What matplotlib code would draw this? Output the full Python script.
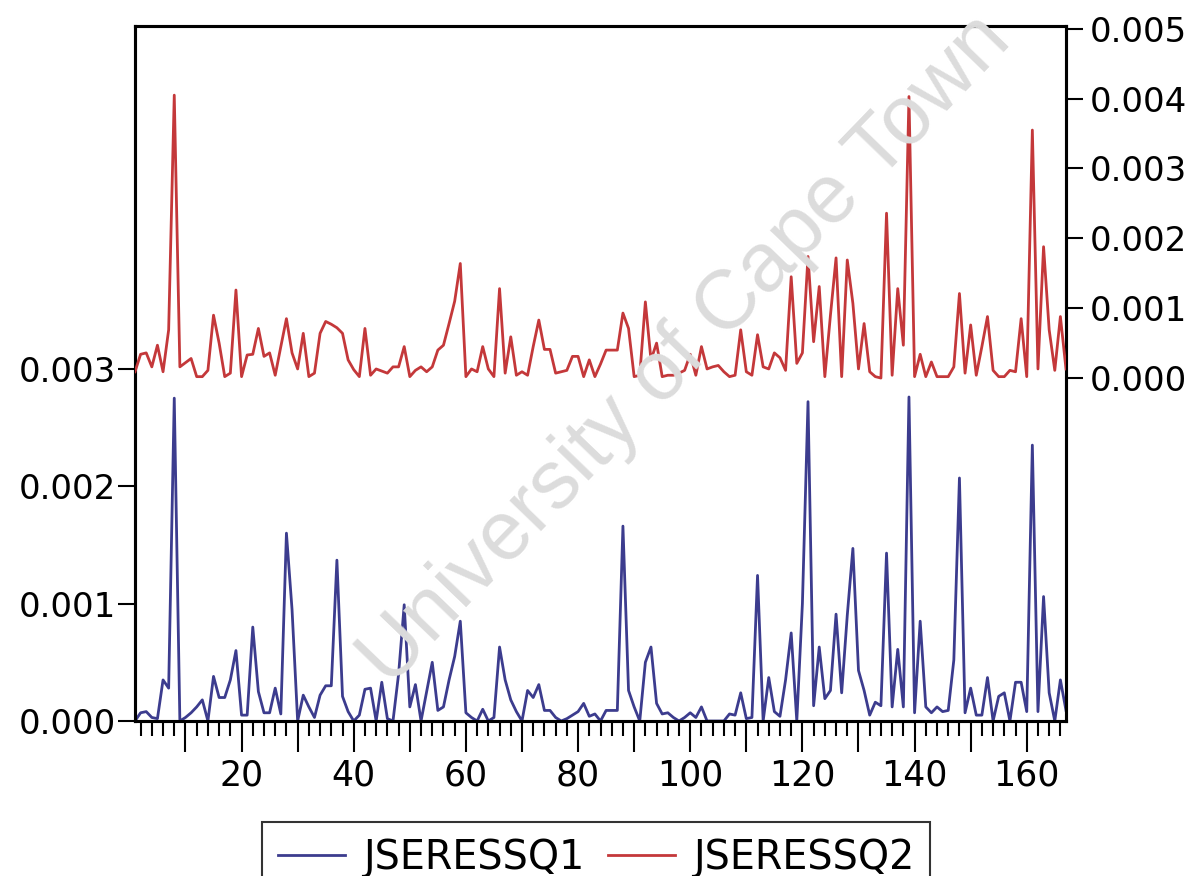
import numpy as np
import matplotlib
matplotlib.use("Agg")
import matplotlib.pyplot as plt
from matplotlib.ticker import MultipleLocator, FixedLocator, FuncFormatter
from matplotlib.lines import Line2D

# ---- data (values in units of 1e-3) ----
obs = np.arange(1, 168)

jseressq1 = [
    0.00, 0.07, 0.08, 0.03, 0.02, 0.35, 0.28, 2.75, 0.00, 0.03,
    0.07, 0.12, 0.18, 0.00, 0.38, 0.20, 0.20, 0.35, 0.60, 0.05,
    0.05, 0.80, 0.25, 0.07, 0.07, 0.28, 0.06, 1.60, 0.95, 0.00,
    0.22, 0.12, 0.03, 0.22, 0.30, 0.30, 1.37, 0.21, 0.08, 0.00,
    0.05, 0.27, 0.28, 0.00, 0.33, 0.02, 0.00, 0.40, 0.99, 0.12,
    0.31, 0.00, 0.25, 0.50, 0.09, 0.12, 0.35, 0.55, 0.85, 0.07,
    0.03, 0.00, 0.10, 0.00, 0.03, 0.63, 0.35, 0.18, 0.08, 0.00,
    0.26, 0.20, 0.31, 0.09, 0.09, 0.03, 0.00, 0.02, 0.05, 0.08,
    0.15, 0.04, 0.06, 0.00, 0.09, 0.09, 0.09, 1.66, 0.26, 0.12,
    0.00, 0.50, 0.63, 0.15, 0.06, 0.07, 0.03, 0.00, 0.03, 0.07,
    0.03, 0.12, 0.00, 0.00, 0.00, 0.00, 0.06, 0.05, 0.24, 0.02,
    0.03, 1.24, 0.00, 0.37, 0.08, 0.04, 0.35, 0.75, 0.00, 1.00,
    2.72, 0.13, 0.63, 0.19, 0.26, 0.91, 0.24, 0.90, 1.47, 0.43,
    0.26, 0.05, 0.16, 0.13, 1.43, 0.12, 0.61, 0.12, 2.76, 0.07,
    0.85, 0.12, 0.07, 0.12, 0.08, 0.09, 0.52, 2.07, 0.07, 0.28,
    0.05, 0.05, 0.37, 0.00, 0.21, 0.24, 0.00, 0.33, 0.33, 0.08,
    2.35, 0.08, 1.06, 0.24, 0.00, 0.35, 0.09,
]

jseressq2 = [
    0.09, 0.34, 0.36, 0.16, 0.47, 0.09, 0.69, 4.05, 0.16, 0.22,
    0.28, 0.02, 0.02, 0.11, 0.90, 0.50, 0.02, 0.07, 1.26, 0.02,
    0.33, 0.34, 0.71, 0.31, 0.36, 0.04, 0.45, 0.85, 0.36, 0.13,
    0.64, 0.02, 0.07, 0.64, 0.81, 0.77, 0.72, 0.64, 0.26, 0.12,
    0.02, 0.71, 0.04, 0.13, 0.10, 0.07, 0.16, 0.16, 0.45, 0.02,
    0.11, 0.16, 0.09, 0.16, 0.40, 0.47, 0.78, 1.10, 1.64, 0.02,
    0.13, 0.09, 0.45, 0.13, 0.02, 1.28, 0.07, 0.59, 0.04, 0.09,
    0.04, 0.45, 0.83, 0.41, 0.41, 0.07, 0.09, 0.11, 0.31, 0.31,
    0.02, 0.26, 0.02, 0.20, 0.40, 0.40, 0.40, 0.93, 0.71, 0.02,
    0.04, 1.09, 0.26, 0.50, 0.02, 0.04, 0.04, 0.07, 0.11, 0.34,
    0.04, 0.45, 0.13, 0.16, 0.18, 0.09, 0.02, 0.04, 0.69, 0.09,
    0.04, 0.62, 0.16, 0.13, 0.36, 0.29, 0.11, 1.45, 0.21, 0.36,
    1.74, 0.52, 1.31, 0.02, 0.90, 1.72, 0.02, 1.69, 1.07, 0.13,
    0.78, 0.09, 0.02, 0.00, 2.36, 0.04, 1.28, 0.47, 4.03, 0.02,
    0.34, 0.02, 0.23, 0.02, 0.02, 0.02, 0.16, 1.21, 0.07, 0.76,
    0.04, 0.45, 0.88, 0.11, 0.02, 0.02, 0.11, 0.09, 0.85, 0.02,
    3.55, 0.13, 1.88, 0.69, 0.11, 0.88, 0.13,
]

left_ticks = [0.000, 0.001, 0.002, 0.003]
right_ticks = [0.000, 0.001, 0.002, 0.003, 0.004, 0.005]
x_labels = [20, 40, 60, 80, 100, 120, 140, 160]
series_names = ["JSERESSQ1", "JSERESSQ2"]

y1 = np.array(jseressq1) * 1e-3
y2 = np.array(jseressq2) * 1e-3

BLUE = "#3c3c8e"
RED = "#c4383a"

plt.rcParams["font.family"] = ["DejaVu Sans"]

W, H = 1192, 876
fig = plt.figure(figsize=(W / 100, H / 100), dpi=100)
L, R, T, B = 135, 1066, 26, 721
ax = fig.add_axes([L / W, 1 - B / H, (R - L) / W, (B - T) / H])
ax2 = ax.twinx()

# watermark
fig.text(0.575, 0.60, "University of Cape Town", fontsize=60, color="#dcdcdc",
         rotation=46, ha="center", va="center", family="Liberation Sans",
         zorder=0)
ax.patch.set_alpha(0)
ax2.patch.set_alpha(0)

ax.plot(obs, y1, color=BLUE, lw=2.0, zorder=3)
ax2.plot(obs, y2, color=RED, lw=2.0, zorder=3)

ax.set_xlim(1, 167)
ax.set_ylim(0, 0.00592)
ax2.set_ylim(-0.00491, 0.00504)

ax.yaxis.set_major_locator(FixedLocator(left_ticks))
ax.yaxis.set_major_formatter(FuncFormatter(lambda v, p: f"{v:.3f}"))
ax2.yaxis.set_major_locator(FixedLocator(right_ticks))
ax2.yaxis.set_major_formatter(FuncFormatter(lambda v, p: f"{v:.3f}"))

ax.xaxis.set_major_locator(MultipleLocator(10))
ax.xaxis.set_minor_locator(MultipleLocator(2))
ax.xaxis.set_major_formatter(FuncFormatter(lambda v, p: f"{int(round(v))}" if int(round(v)) in x_labels else ""))

for a in (ax, ax2):
    for s in a.spines.values():
        s.set_linewidth(2.2)
        s.set_color("black")

ax.tick_params(axis="y", direction="out", length=12, width=1.5, pad=2, labelsize=24.5)
ax2.tick_params(axis="y", direction="out", length=12, width=1.5, pad=5, labelsize=24.5)
ax.tick_params(axis="x", which="major", direction="out", length=22, width=1.5, pad=5, labelsize=25)
ax.tick_params(axis="x", which="minor", direction="out", length=11, width=1.5)

handles = [Line2D([], [], color=BLUE, lw=2.0), Line2D([], [], color=RED, lw=2.0)]
leg = fig.legend(handles, series_names, loc="upper left",
                 bbox_to_anchor=(262 / W, 1 - 822 / H), ncol=2, fontsize=28.5,
                 frameon=True, fancybox=False, edgecolor="black",
                 borderpad=0.4, handlelength=1.7, handletextpad=0.45,
                 columnspacing=0.6, borderaxespad=0)
leg.get_frame().set_linewidth(1.5)

fig.savefig("out.png", dpi=100)
